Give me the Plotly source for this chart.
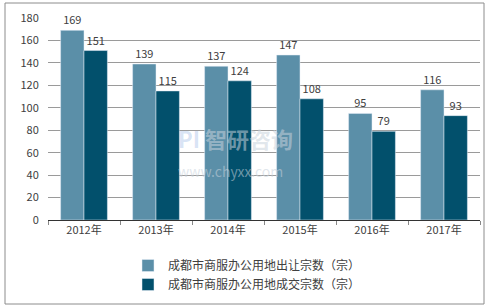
import plotly.graph_objects as go

years = ["2012年", "2013年", "2014年", "2015年", "2016年", "2017年"]
series1_name = "成都市商服办公用地出让宗数（宗）"
series2_name = "成都市商服办公用地成交宗数（宗）"
series1 = [169, 139, 137, 147, 95, 116]
series2 = [151, 115, 124, 108, 79, 93]

font_family = "Microsoft YaHei, Noto Sans CJK SC, sans-serif"
c1 = "#5b8fa8"
c2 = "#02506c"

fig = go.Figure()
fig.add_trace(go.Bar(x=years, y=series1, name=series1_name, marker_color=c1,
                     text=series1, textposition="outside", cliponaxis=False,
                     textfont=dict(size=11, color="#404040")))
fig.add_trace(go.Bar(x=years, y=series2, name=series2_name, marker_color=c2,
                     text=series2, textposition="outside", cliponaxis=False,
                     textfont=dict(size=11, color="#404040")))

L, R, T, B = 48, 480, 18, 220
W, H = 487, 308
pw, ph = R - L, B - T

fig.update_layout(
    width=W, height=H,
    margin=dict(l=L, r=W - R, t=T, b=H - B),
    paper_bgcolor="white", plot_bgcolor="white",
    barmode="group", bargap=0.35, bargroupgap=0,
    font=dict(family=font_family, size=11, color="#404040"),
    showlegend=True,
    legend=dict(orientation="v", x=(128 - L) / pw, y=(B - 251) / ph,
                xanchor="left", yanchor="top", font=dict(size=12, color="#404040"),
                tracegroupgap=0, itemwidth=30, bgcolor="rgba(0,0,0,0)"),
    xaxis=dict(showgrid=False, showline=True, linecolor="#333333", linewidth=1,
               ticks="outside", tickson="boundaries", ticklen=4, tickcolor="#888888",
               tickfont=dict(size=11, color="#404040")),
    yaxis=dict(range=[0, 180], dtick=20, showgrid=True, gridcolor="#9a9a9a", gridwidth=1,
               zeroline=False, showline=False, ticks="outside", ticklen=6, tickcolor="rgba(0,0,0,0)",
               tickfont=dict(size=11, color="#404040")),
)

fig.add_shape(type="rect", xref="paper", yref="paper",
              x0=(5 - L) / pw, x1=(484 - L) / pw, y0=(B - 304) / ph, y1=(B - 3) / ph,
              line=dict(color="#8c8c8c", width=1), fillcolor="rgba(0,0,0,0)", layer="below")

# watermark (single text block)
fig.add_annotation(text="<b><span style='color:rgba(120,160,220,0.55)'>PI</span> 智研咨询</b><br>"
                        "<span style='font-size:14px'>www.chyxx.com</span>",
                   xref="paper", yref="paper", align="left",
                   x=(176 - L) / pw, y=(B - 152) / ph, showarrow=False,
                   font=dict(size=22, color="rgba(200,210,220,0.55)"), xanchor="left")

fig.write_html("out.html")
